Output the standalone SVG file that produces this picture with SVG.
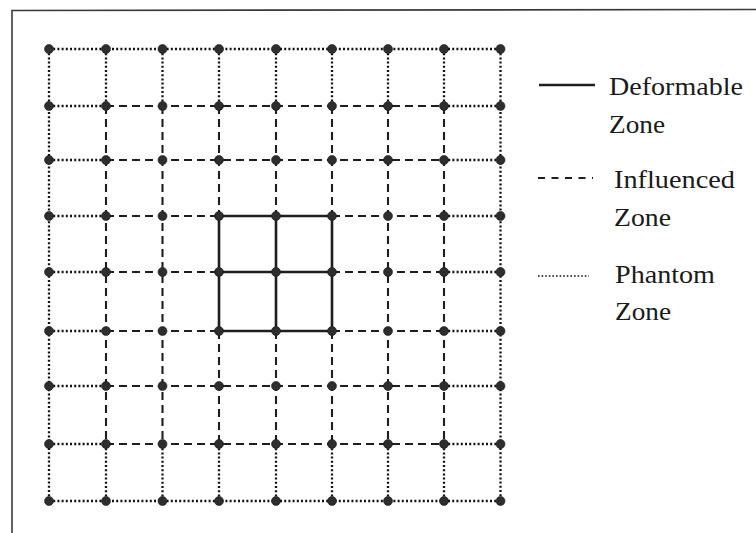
<svg xmlns="http://www.w3.org/2000/svg" width="756" height="533" viewBox="0 0 756 533">
<style>
.solid{stroke:#1e1e1e;stroke-width:2.6;fill:none}
.dash{stroke:#1e1e1e;stroke-width:2.1;stroke-dasharray:8 5;fill:none}
.dot{stroke:#111111;stroke-width:2.3;stroke-dasharray:2 2.2;fill:none}
.n{fill:#2e2e2e;stroke:#1a1a1a;stroke-width:0.6}
.lbl{font-family:"Liberation Serif","Times New Roman",serif;font-size:25px;fill:#1a1a1a}
.frame{stroke:#3a3a3a;stroke-width:1.6;fill:none}
</style>
<rect width="756" height="533" fill="#ffffff"/>
<g id="frame">
<path class="frame" d="M12 533 L12 10.5 L756 9.5"/>
</g>
<g id="connectors">
<g id="phantom-lines">
<path class="dot" d="M49 49H500.5 M49 501H500.5 M49 49V501 M500.5 49V501"/>
<path class="dot" d="M49 106H106 M444 106H500.5 M49 160H106 M444 160H500.5 M49 216H106 M444 216H500.5 M49 272H106 M444 272H500.5 M49 331H106 M444 331H500.5 M49 386H106 M444 386H500.5 M49 444H106 M444 444H500.5"/>
<path class="dot" d="M106 49V106 M106 444V501 M162.5 49V106 M162.5 444V501 M219 49V106 M219 444V501 M276 49V106 M276 444V501 M332 49V106 M332 444V501 M388 49V106 M388 444V501 M444 49V106 M444 444V501"/>
</g>
<g id="influenced-lines">
<path class="dash" d="M106 106H444 M106 160H444 M106 386H444 M106 444H444 M106 216H219 M332 216H444 M106 272H219 M332 272H444 M106 331H219 M332 331H444"/>
<path class="dash" d="M106 106V444 M162.5 106V444 M388 106V444 M444 106V444 M219 106V216 M219 331V444 M276 106V216 M276 331V444 M332 106V216 M332 331V444"/>
</g>
<g id="deformable-lines">
<path class="solid" d="M219 216H332 M219 272H332 M219 331H332 M219 216V331 M276 216V331 M332 216V331"/>
</g>
</g>
<g id="nodes">
<g id="n0_0"><circle class="n" cx="49" cy="49" r="4.5"/></g>
<g id="n0_1"><circle class="n" cx="106" cy="49" r="4.5"/></g>
<g id="n0_2"><circle class="n" cx="162.5" cy="49" r="4.5"/></g>
<g id="n0_3"><circle class="n" cx="219" cy="49" r="4.5"/></g>
<g id="n0_4"><circle class="n" cx="276" cy="49" r="4.5"/></g>
<g id="n0_5"><circle class="n" cx="332" cy="49" r="4.5"/></g>
<g id="n0_6"><circle class="n" cx="388" cy="49" r="4.5"/></g>
<g id="n0_7"><circle class="n" cx="444" cy="49" r="4.5"/></g>
<g id="n0_8"><circle class="n" cx="500.5" cy="49" r="4.5"/></g>
<g id="n1_0"><circle class="n" cx="49" cy="106" r="4.5"/></g>
<g id="n1_1"><circle class="n" cx="106" cy="106" r="4.5"/></g>
<g id="n1_2"><circle class="n" cx="162.5" cy="106" r="4.5"/></g>
<g id="n1_3"><circle class="n" cx="219" cy="106" r="4.5"/></g>
<g id="n1_4"><circle class="n" cx="276" cy="106" r="4.5"/></g>
<g id="n1_5"><circle class="n" cx="332" cy="106" r="4.5"/></g>
<g id="n1_6"><circle class="n" cx="388" cy="106" r="4.5"/></g>
<g id="n1_7"><circle class="n" cx="444" cy="106" r="4.5"/></g>
<g id="n1_8"><circle class="n" cx="500.5" cy="106" r="4.5"/></g>
<g id="n2_0"><circle class="n" cx="49" cy="160" r="4.5"/></g>
<g id="n2_1"><circle class="n" cx="106" cy="160" r="4.5"/></g>
<g id="n2_2"><circle class="n" cx="162.5" cy="160" r="4.5"/></g>
<g id="n2_3"><circle class="n" cx="219" cy="160" r="4.5"/></g>
<g id="n2_4"><circle class="n" cx="276" cy="160" r="4.5"/></g>
<g id="n2_5"><circle class="n" cx="332" cy="160" r="4.5"/></g>
<g id="n2_6"><circle class="n" cx="388" cy="160" r="4.5"/></g>
<g id="n2_7"><circle class="n" cx="444" cy="160" r="4.5"/></g>
<g id="n2_8"><circle class="n" cx="500.5" cy="160" r="4.5"/></g>
<g id="n3_0"><circle class="n" cx="49" cy="216" r="4.5"/></g>
<g id="n3_1"><circle class="n" cx="106" cy="216" r="4.5"/></g>
<g id="n3_2"><circle class="n" cx="162.5" cy="216" r="4.5"/></g>
<g id="n3_3"><circle class="n" cx="219" cy="216" r="4.5"/></g>
<g id="n3_4"><circle class="n" cx="276" cy="216" r="4.5"/></g>
<g id="n3_5"><circle class="n" cx="332" cy="216" r="4.5"/></g>
<g id="n3_6"><circle class="n" cx="388" cy="216" r="4.5"/></g>
<g id="n3_7"><circle class="n" cx="444" cy="216" r="4.5"/></g>
<g id="n3_8"><circle class="n" cx="500.5" cy="216" r="4.5"/></g>
<g id="n4_0"><circle class="n" cx="49" cy="272" r="4.5"/></g>
<g id="n4_1"><circle class="n" cx="106" cy="272" r="4.5"/></g>
<g id="n4_2"><circle class="n" cx="162.5" cy="272" r="4.5"/></g>
<g id="n4_3"><circle class="n" cx="219" cy="272" r="4.5"/></g>
<g id="n4_4"><circle class="n" cx="276" cy="272" r="4.5"/></g>
<g id="n4_5"><circle class="n" cx="332" cy="272" r="4.5"/></g>
<g id="n4_6"><circle class="n" cx="388" cy="272" r="4.5"/></g>
<g id="n4_7"><circle class="n" cx="444" cy="272" r="4.5"/></g>
<g id="n4_8"><circle class="n" cx="500.5" cy="272" r="4.5"/></g>
<g id="n5_0"><circle class="n" cx="49" cy="331" r="4.5"/></g>
<g id="n5_1"><circle class="n" cx="106" cy="331" r="4.5"/></g>
<g id="n5_2"><circle class="n" cx="162.5" cy="331" r="4.5"/></g>
<g id="n5_3"><circle class="n" cx="219" cy="331" r="4.5"/></g>
<g id="n5_4"><circle class="n" cx="276" cy="331" r="4.5"/></g>
<g id="n5_5"><circle class="n" cx="332" cy="331" r="4.5"/></g>
<g id="n5_6"><circle class="n" cx="388" cy="331" r="4.5"/></g>
<g id="n5_7"><circle class="n" cx="444" cy="331" r="4.5"/></g>
<g id="n5_8"><circle class="n" cx="500.5" cy="331" r="4.5"/></g>
<g id="n6_0"><circle class="n" cx="49" cy="386" r="4.5"/></g>
<g id="n6_1"><circle class="n" cx="106" cy="386" r="4.5"/></g>
<g id="n6_2"><circle class="n" cx="162.5" cy="386" r="4.5"/></g>
<g id="n6_3"><circle class="n" cx="219" cy="386" r="4.5"/></g>
<g id="n6_4"><circle class="n" cx="276" cy="386" r="4.5"/></g>
<g id="n6_5"><circle class="n" cx="332" cy="386" r="4.5"/></g>
<g id="n6_6"><circle class="n" cx="388" cy="386" r="4.5"/></g>
<g id="n6_7"><circle class="n" cx="444" cy="386" r="4.5"/></g>
<g id="n6_8"><circle class="n" cx="500.5" cy="386" r="4.5"/></g>
<g id="n7_0"><circle class="n" cx="49" cy="444" r="4.5"/></g>
<g id="n7_1"><circle class="n" cx="106" cy="444" r="4.5"/></g>
<g id="n7_2"><circle class="n" cx="162.5" cy="444" r="4.5"/></g>
<g id="n7_3"><circle class="n" cx="219" cy="444" r="4.5"/></g>
<g id="n7_4"><circle class="n" cx="276" cy="444" r="4.5"/></g>
<g id="n7_5"><circle class="n" cx="332" cy="444" r="4.5"/></g>
<g id="n7_6"><circle class="n" cx="388" cy="444" r="4.5"/></g>
<g id="n7_7"><circle class="n" cx="444" cy="444" r="4.5"/></g>
<g id="n7_8"><circle class="n" cx="500.5" cy="444" r="4.5"/></g>
<g id="n8_0"><circle class="n" cx="49" cy="501" r="4.5"/></g>
<g id="n8_1"><circle class="n" cx="106" cy="501" r="4.5"/></g>
<g id="n8_2"><circle class="n" cx="162.5" cy="501" r="4.5"/></g>
<g id="n8_3"><circle class="n" cx="219" cy="501" r="4.5"/></g>
<g id="n8_4"><circle class="n" cx="276" cy="501" r="4.5"/></g>
<g id="n8_5"><circle class="n" cx="332" cy="501" r="4.5"/></g>
<g id="n8_6"><circle class="n" cx="388" cy="501" r="4.5"/></g>
<g id="n8_7"><circle class="n" cx="444" cy="501" r="4.5"/></g>
<g id="n8_8"><circle class="n" cx="500.5" cy="501" r="4.5"/></g>
</g>
<g id="legend">
<g id="legend-deformable">
<line class="solid" x1="539" y1="85" x2="595" y2="85"/>
<text class="lbl" x="609" y="95" textLength="134" lengthAdjust="spacingAndGlyphs">Deformable</text>
<text class="lbl" x="609" y="133" textLength="56" lengthAdjust="spacingAndGlyphs">Zone</text>
</g>
<g id="legend-influenced">
<line class="dash" x1="538" y1="178" x2="593" y2="178" style="stroke-dasharray:7 6.5"/>
<text class="lbl" x="614" y="188" textLength="121" lengthAdjust="spacingAndGlyphs">Influenced</text>
<text class="lbl" x="614" y="226" textLength="57" lengthAdjust="spacingAndGlyphs">Zone</text>
</g>
<g id="legend-phantom">
<line class="dot" x1="538" y1="276" x2="589" y2="276" style="stroke-width:1.6;stroke-dasharray:1.6 2"/>
<text class="lbl" x="615" y="283" textLength="100" lengthAdjust="spacingAndGlyphs">Phantom</text>
<text class="lbl" x="615" y="320" textLength="56" lengthAdjust="spacingAndGlyphs">Zone</text>
</g>
</g>
</svg>
